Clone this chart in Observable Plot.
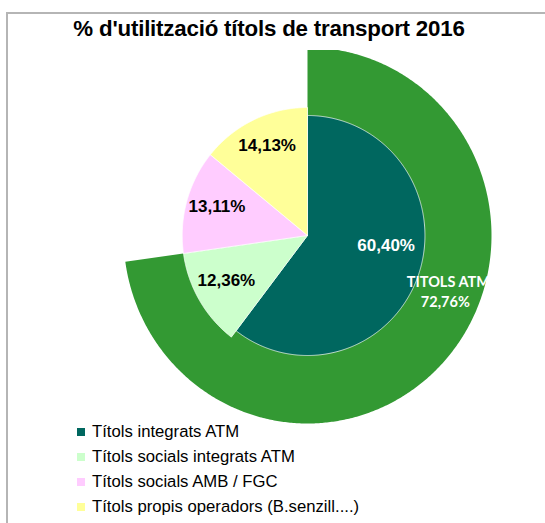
<!DOCTYPE html>
<html>
<head>
<meta charset="utf-8">
<script src="https://cdn.jsdelivr.net/npm/d3@7"></script>
<script src="https://cdn.jsdelivr.net/npm/@observablehq/plot@0.6"></script>
<style>
  html, body { margin: 0; padding: 0; background: #fff; overflow: hidden; }
  #wrap { position: relative; width: 545px; height: 523px; overflow: hidden; font-family: "Liberation Sans", Arial, sans-serif; }
  #frame { position: absolute; left: 6px; top: 12px; width: 700px; height: 700px; border-left: 2px solid #b5b5b5; border-top: 2px solid #b5b5b5; }
  #title { position: absolute; left: 0; width: 538px; top: 16px; text-align: center; font-weight: bold; font-size: 22.3px; color: #000; letter-spacing: -0.2px; }
  #chart { position: absolute; left: 0; top: 50px; }
  #legend { position: absolute; left: 77px; top: 419px; font-size: 16.7px; color: #000; }
  .row { height: 25.2px; display: flex; align-items: center; }
  .sw { width: 8px; height: 8px; margin-right: 7px; }
</style>
</head>
<body>
<div id="wrap">
  <div id="frame"></div>
  <div id="title">% d'utilització títols de transport 2016</div>
  <div id="chart"></div>
  <div id="legend"></div>
</div>
<script>
// ---- data ----
const categories = [
  "Títols integrats ATM",
  "Títols socials integrats ATM",
  "Títols socials AMB / FGC",
  "Títols propis operadors (B.senzill....)"
];
const innerValues = [60.40, 12.36, 13.11, 14.13];
const outerCategory = "TITOLS ATM";
const outerValue = 72.76;
const innerColors = ["#00675f", "#ccffcc", "#ffccff", "#ffff99"];
const outerColor = "#339933";

// ---- geometry helpers (derived from data) ----
const R = 188;                 // outer radius (px, vertical)
const mainR = 120 / R;         // radius of the main (first) inner slice
const restR = 128 / R;         // radius of the other inner slices
const fmt = v => v.toFixed(2).replace(".", ",") + "%";

function sector(a0, a1, r, key, color) {
  const pts = [{x: 0, y: 0, key, color}];
  const n = Math.max(2, Math.ceil((a1 - a0) / (Math.PI / 360)));
  for (let i = 0; i <= n; i++) {
    const a = a0 + (a1 - a0) * i / n;
    pts.push({x: r * Math.sin(a), y: r * Math.cos(a), key, color});
  }
  pts.push({x: 0, y: 0, key, color});
  return pts;
}

const total = d3.sum(innerValues);
const outerPoly = sector(0, 2 * Math.PI * outerValue / 100, 1, "outer", outerColor);

let acc = 0;
const innerPolys = [];
const innerLabels = [];
innerValues.forEach((v, i) => {
  const a0 = 2 * Math.PI * acc / total;
  acc += v;
  const a1 = 2 * Math.PI * acc / total;
  const r = i === 0 ? mainR : restR;
  innerPolys.push(...sector(a0, a1, r, categories[i], innerColors[i]));
  const m = (a0 + a1) / 2;
  const lr = r * (i === 0 ? 0.68 : 0.75);
  innerLabels.push({x: lr * Math.sin(m), y: lr * Math.cos(m), text: fmt(v), i});
});

const outerMid = Math.PI * outerValue / 100;
const outerLr = (mainR + 1) / 2;
const outerLabels = [
  {x: outerLr * Math.sin(outerMid), y: outerLr * Math.cos(outerMid), text: outerCategory},
  {x: outerLr * Math.sin(outerMid), y: outerLr * Math.cos(outerMid), text: fmt(outerValue)}
];

const cx = 307, cy = 185, Rx = 184;
const chart = Plot.plot({
  width: 545,
  height: 380,
  margin: 0,
  x: {domain: [-1, 1], range: [cx - Rx, cx + Rx], axis: null},
  y: {domain: [-1, 1], range: [cy + R, cy - R], axis: null},
  marks: [
    Plot.line(outerPoly, {x: "x", y: "y", z: "key", fill: "color", stroke: "none", curve: "linear"}),
    Plot.line(innerPolys, {x: "x", y: "y", z: "key", fill: "color", stroke: "white", strokeWidth: 0.7, curve: "linear"}),
    Plot.text(innerLabels.filter(d => d.i > 0), {x: "x", y: "y", text: "text", fill: "black", fontWeight: "bold", fontSize: 17, dy: -3, fontFamily: "Liberation Sans, Arial, sans-serif"}),
    Plot.text(innerLabels.filter(d => d.i === 0), {x: "x", y: "y", text: "text", fill: "white", fontWeight: "bold", fontSize: 17, dy: -16, dx: 3, fontFamily: "Liberation Sans, Arial, sans-serif"}),
    Plot.text(outerLabels.slice(0, 1), {x: "x", y: "y", text: "text", fill: "white", fontWeight: "bold", fontSize: 14.5, dx: 27, dy: -54, fontFamily: "Lato, sans-serif", letterSpacing: 0.5}),
    Plot.text(outerLabels.slice(1), {x: "x", y: "y", text: "text", fill: "white", fontWeight: "bold", fontSize: 14.5, dx: 24, dy: -34, fontFamily: "Lato, sans-serif"})
  ]
});
document.getElementById("chart").appendChild(chart);

// legend
const leg = document.getElementById("legend");
categories.forEach((c, i) => {
  const row = document.createElement("div");
  row.className = "row";
  const sw = document.createElement("span");
  sw.className = "sw";
  sw.style.background = innerColors[i];
  const t = document.createElement("span");
  t.textContent = c;
  row.appendChild(sw);
  row.appendChild(t);
  leg.appendChild(row);
});
</script>
</body>
</html>
